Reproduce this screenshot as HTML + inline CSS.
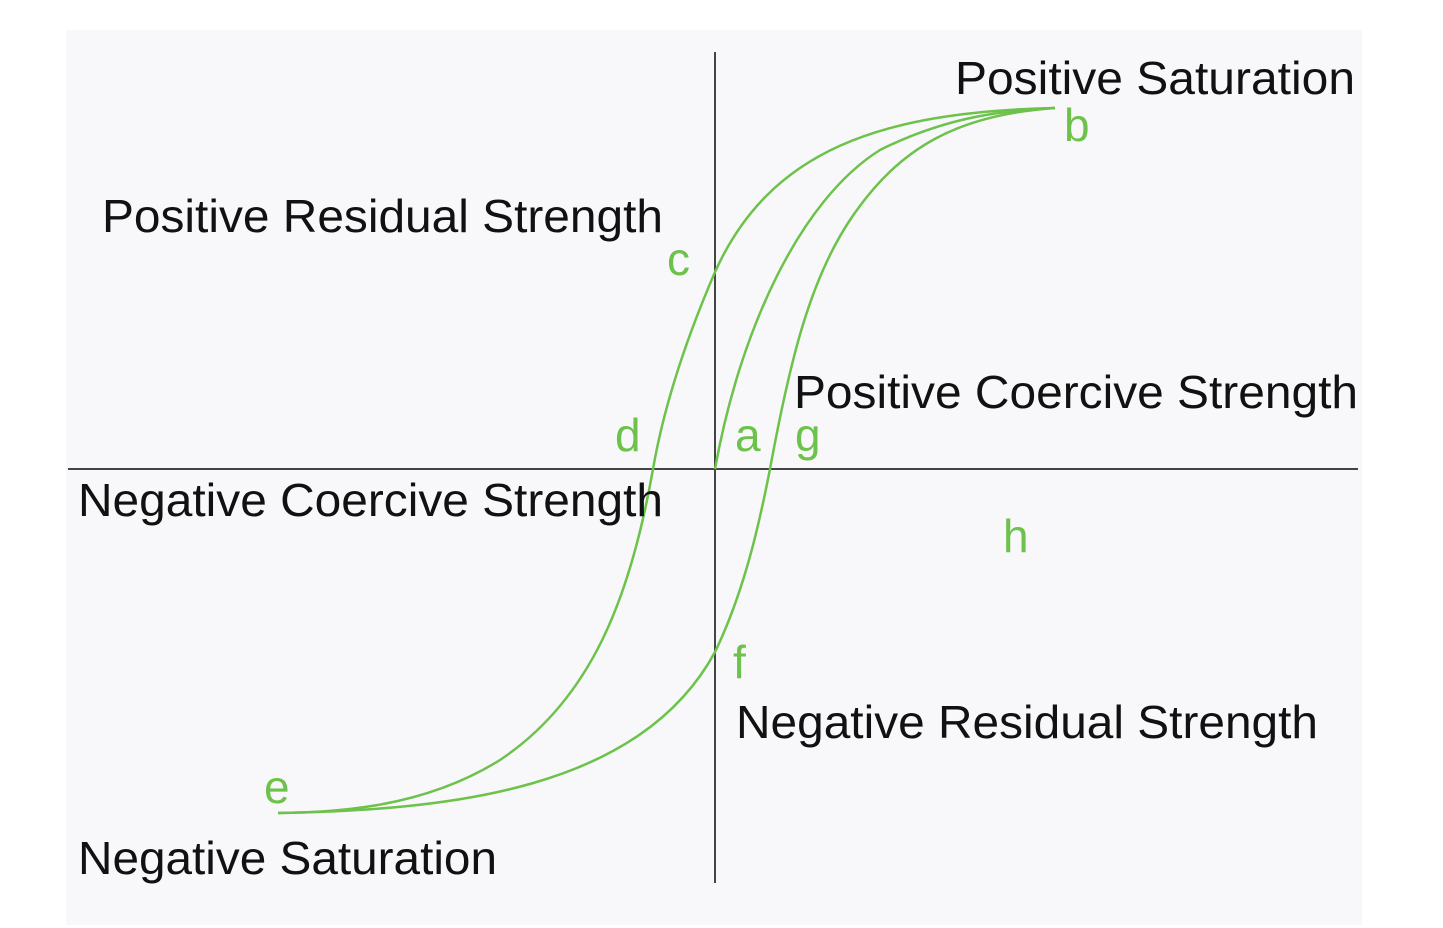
<!DOCTYPE html>
<html><head><meta charset="utf-8"><style>
html,body{margin:0;padding:0;background:#fff;}
svg{display:block;}
text{font-family:"Liberation Sans",sans-serif;}
</style></head><body>
<svg width="1443" height="928" viewBox="0 0 1443 928" xmlns="http://www.w3.org/2000/svg">
<rect x="66" y="30" width="1296" height="895" fill="#f8f8fa"/>
<line x1="715" y1="52" x2="715" y2="883" stroke="#444" stroke-width="2"/>
<line x1="68" y1="469" x2="1358" y2="469" stroke="#444" stroke-width="2"/>
<g fill="none" stroke="#6cc24a" stroke-width="2.5">
<path d="M1055,108 C880,112 770,150 715,272 C690,330 665,400 653,469 C630,600 590,700 500,760 C420,810 330,812 278,813"/>
<path d="M278,813 C450,810 640,790 715,652 C745,590 760,520 770,469 C790,360 810,280 850,220 C900,145 960,115 1055,108"/>
<path d="M715,469 C740,330 800,200 880,150 C950,115 1010,110 1055,108"/>
</g>
<g fill="#111" font-size="46">
<text x="955" y="94" textLength="400" lengthAdjust="spacingAndGlyphs">Positive Saturation</text>
<text x="102" y="232" textLength="561" lengthAdjust="spacingAndGlyphs">Positive Residual Strength</text>
<text x="794" y="408" textLength="564" lengthAdjust="spacingAndGlyphs">Positive Coercive Strength</text>
<text x="78" y="516" textLength="585" lengthAdjust="spacingAndGlyphs">Negative Coercive Strength</text>
<text x="736" y="738" textLength="582" lengthAdjust="spacingAndGlyphs">Negative Residual Strength</text>
<text x="78" y="874" textLength="419" lengthAdjust="spacingAndGlyphs">Negative Saturation</text>
</g>
<g fill="#6cc24a" font-size="46">
<text x="1064" y="141">b</text>
<text x="667" y="275">c</text>
<text x="615" y="451">d</text>
<text x="735" y="451">a</text>
<text x="795" y="451">g</text>
<text x="1003" y="552">h</text>
<text x="733" y="678">f</text>
<text x="264" y="803">e</text>
</g>
</svg>
</body></html>
